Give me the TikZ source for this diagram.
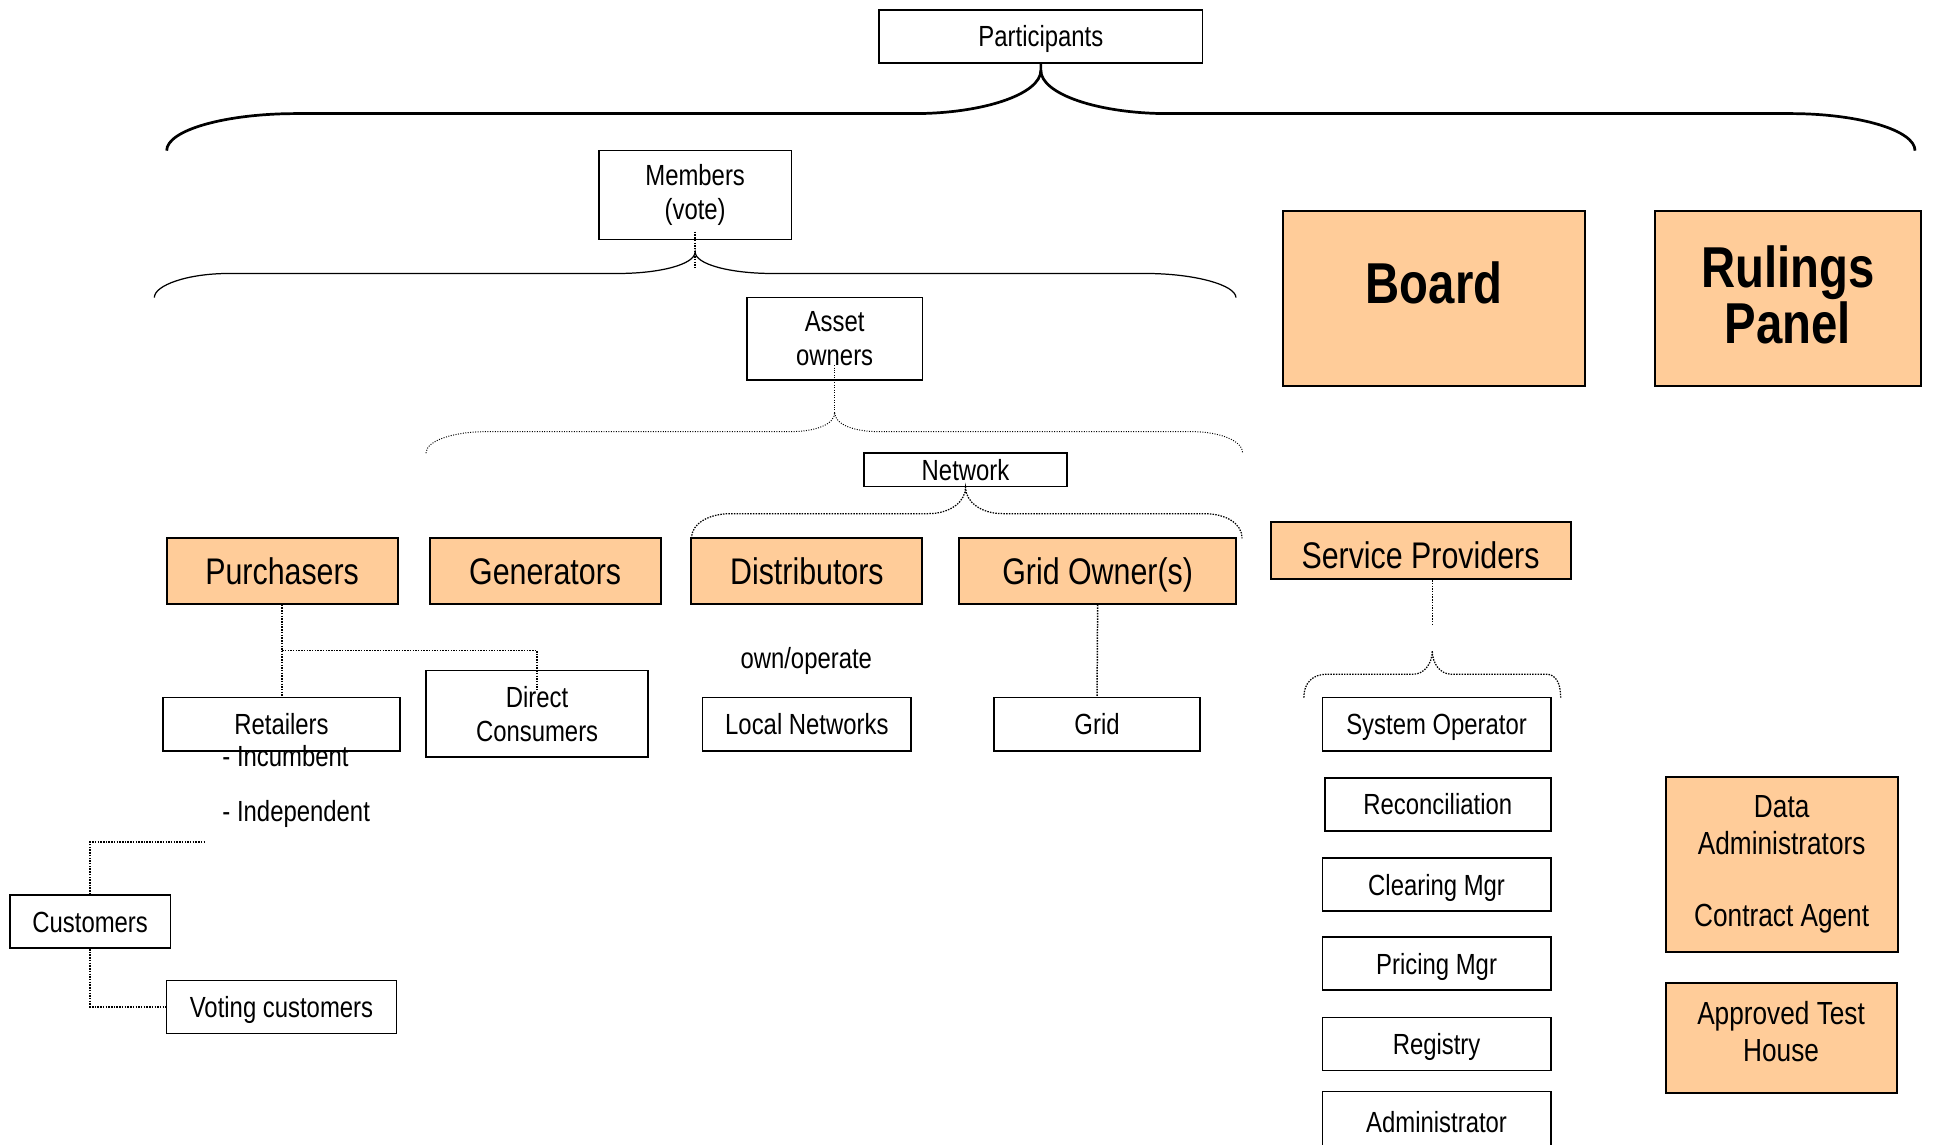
\documentclass[tikz,border=0pt]{standalone}
\usepackage{fontspec}
\setmainfont[FakeStretch=0.82]{Liberation Sans}
\definecolor{peach}{HTML}{FFCC99}
\tikzset{
    txt/.style={inner sep=0pt, font=\fontsize{23.6}{27.5}\selectfont},
    dims/.style 2 args={minimum width=#1, minimum height=#2},
    wbox/.style={draw, line width=1.3pt, fill=white, align=center, inner sep=2pt, text height=17pt, text depth=0pt, font=\fontsize{23.6}{27.5}\selectfont},
    obox/.style={wbox, fill=peach, line width=1.6pt, text height=21.6pt, font=\fontsize{30}{34}\selectfont},
    multi/.style={text height={}, text depth={}},
    bigbox/.style={obox, multi, font=\fontsize{46.7}{45}\selectfont\bfseries},
    sidebox/.style={obox, multi, font=\fontsize{25.9}{30}\selectfont},
    link/.style={line width=1.2pt, densely dotted},
    fbrace/.style={line width=0.8pt, dash pattern=on 0.8pt off 1.2pt}
}
\begin{document}
\begin{tikzpicture}[x=1pt,y=-1pt]
                \useasboundingbox (0,0) rectangle (1568,927);
                \node[wbox,dims={262pt}{43pt}] (part) at (843,29.5) {Participants};
                \node[wbox,multi,dims={156pt}{72pt}] (mem) at (563,158) {Members\\(vote)};
                \node[wbox,multi,dims={142pt}{67pt}] (asset) at (676,274.5) {Asset\\owners};
                \node[wbox,dims={164pt}{27pt}] (net) at (782,380.5) {Network};
                \node[bigbox,dims={245pt}{142pt},text depth=26pt] (board) at (1161.5,242) {Board};
                \node[bigbox,dims={216pt}{142pt},text depth=7pt] (rulings) at (1448,242) {Rulings\\Panel};
                \node[obox,dims={187pt}{53pt}] (purch) at (228.5,462.5) {Purchasers};
                \node[obox,dims={187pt}{53pt}] (gen) at (441.5,462.5) {Generators};
                \node[obox,dims={187pt}{53pt}] (dist) at (653.5,462.5) {Distributors};
                \node[obox,dims={224pt}{53pt}] (gridown) at (889,462.5) {Grid Owner(s)};
                \node[obox,dims={243pt}{46pt},text height=29.6pt] (serv) at (1150.5,446) {Service Providers};
                \node[wbox,dims={192pt}{43pt}] (retail) at (228,586.5) {Retailers};
                \node[wbox,multi,dims={180pt}{70pt}] (direct) at (435,578) {Direct\\Consumers};
                \node[wbox,dims={169pt}{43pt}] (localnet) at (653.5,586.5) {Local Networks};
                \node[wbox,dims={167pt}{43pt}] (grid) at (888.5,586.5) {Grid};
                \node[txt] (ownop) at (653,535) {own/operate};
                \node[txt,anchor=west] (incumb) at (180,612) {- Incumbent};
                \node[txt,anchor=west] (indepen) at (180,659.5) {- Independent};
                \node[wbox,dims={130pt}{43pt}] (cust) at (73,746.5) {Customers};
                \node[wbox,dims={186pt}{43pt}] (voting) at (228,815.5) {Voting customers};
                \node[wbox,dims={185pt}{43pt}] (sysop) at (1163.5,586.5) {System Operator};
                \node[wbox,dims={183pt}{43pt}] (recon) at (1164.5,651.5) {Reconciliation};
                \node[wbox,dims={185pt}{43pt}] (clear) at (1163.5,716.5) {Clearing Mgr};
                \node[wbox,dims={185pt}{43pt}] (pricing) at (1163.5,780.5) {Pricing Mgr};
                \node[wbox,dims={185pt}{43pt}] (registry) at (1163.5,845.5) {Registry};
                \node[wbox,dims={185pt}{50pt}] (admin) at (1163.5,909) {Administrator};
                \node[sidebox,dims={188pt}{142pt}] (dataadm) at (1443,700) {Data\\Administrators\\[29pt]Contract Agent};
                \node[sidebox,dims={187pt}{89pt},text depth=10pt] (testhouse) at (1442.5,840.5) {Approved Test\\House};
                \coordinate (ptip) at (843,57);
                \coordinate (mtip) at (563,204);
                \coordinate (atip) at (676,334);
                \coordinate (stip) at (1160,527);
                \coordinate (pfork) at (228.5,527);
                \coordinate (indep) at (165,682);
                \draw[line width=2.2pt] (part.south) -- (ptip) .. controls (843,76) and (797,92) .. (740,92) -- (240,92) .. controls (182,92) and (135,105.5) .. (135,122);
                \draw[line width=2.2pt] (ptip) .. controls (843,76) and (889,92) .. (946,92) -- (1450,92) .. controls (1505.5,92) and (1551,105.5) .. (1551,122);
                \draw[line width=1pt] (125,241) .. controls (125,231) and (152,221.5) .. (185,221.5) -- (500,221.5) .. controls (535,221.5) and (563,214) .. (mtip) .. controls (563,214) and (591,221.5) .. (626,221.5) -- (928,221.5) .. controls (968,221.5) and (1001,231) .. (1001,241);
                \draw[link] ([yshift=7pt]mem.south) -- ([yshift=-13pt]mtip);
                \draw[fbrace] (345,367) .. controls (345,357) and (367,349.6) .. (394,349.6) -- (640,349.6) .. controls (660,349.6) and (676,344) .. (atip) .. controls (676,344) and (692,349.6) .. (712,349.6) -- (965,349.6) .. controls (988,349.6) and (1006.5,357) .. (1006.5,367);
                \draw[fbrace] ([yshift=13pt]asset.south) -- (atip);
                \draw[link,line width=1pt] (560,436) .. controls (560,424) and (574,416) .. (592,416) -- (752,416) .. controls (770,416) and (782,406) .. (net.south) .. controls (782,406) and (794,416) .. (812,416) -- (975,416) .. controls (993,416) and (1006,424) .. (1006,436);
                \draw[link,line width=1pt] (1056,565) .. controls (1056,553) and (1063,546) .. (1075,546) -- (1145,546) .. controls (1153,546) and (1160,538) .. (stip) .. controls (1160,538) and (1167,546) .. (1175,546) -- (1252,546) .. controls (1260,546) and (1264,553) .. (1264,565);
                \draw[link] (serv.south -| stip) -- ([yshift=21pt]stip);
                \draw[link] (purch.south) -- (purch.south |- retail.north);
                \draw[link] (pfork) -- (pfork -| direct.north) -- ([yshift=-16pt]direct.north);
                \draw[link] (gridown.south) -- (grid.north);
                \draw[link] (cust.north) |- (indep);
                \draw[link] (cust.south) |- (voting.west);
            \end{tikzpicture}
\end{document}
